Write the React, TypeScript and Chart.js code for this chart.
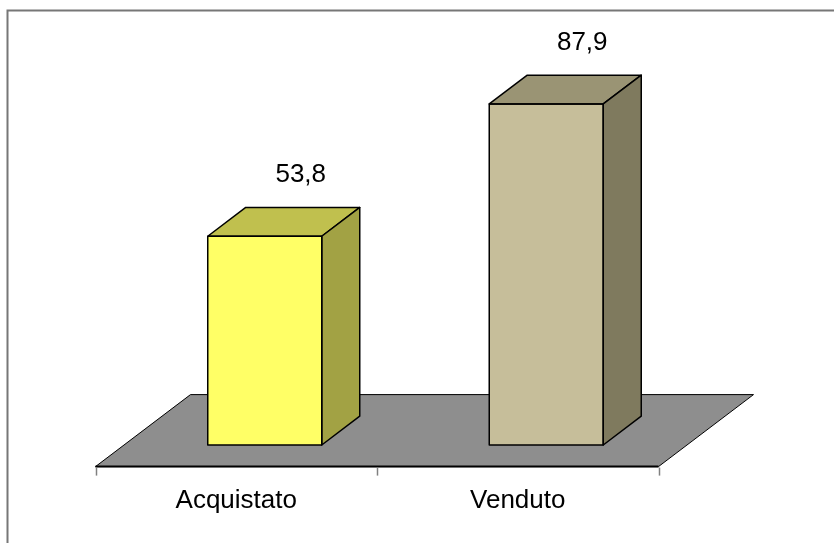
import React, { useEffect, useRef } from "react";
import { Chart, registerables } from "chart.js";

Chart.register(...registerables);

// Data
const categories = ["Acquistato", "Venduto"];
const values = [53.8, 87.9];
const valueLabels = ["53,8", "87,9"];

// Face colours for each bar: front, top, side
const frontColors = ["#FFFF66", "#C6BE9A"];
const topColors = ["#C0C04E", "#9A9474"];
const sideColors = ["#A2A244", "#7F7A5E"];

// 3D projection of the floor depth (pixels) and where bars sit within it
const DEPTH_X = 95;
const DEPTH_Y = 72;
const BAR_FRONT = 0.3;
const BAR_BACK = 0.7;

const FONT = '"Liberation Sans", Arial, sans-serif';

const threeDPlugin = {
  id: "threeD",
  beforeDraw(chart: any) {
    const { ctx } = chart;
    // outer frame
    ctx.save();
    ctx.strokeStyle = "#777777";
    ctx.lineWidth = 2;
    ctx.beginPath();
    ctx.moveTo(7.5, chart.height + 2);
    ctx.lineTo(7.5, 10.5);
    ctx.lineTo(chart.width + 2, 10.5);
    ctx.stroke();
    ctx.restore();
  },
  beforeDatasetsDraw(chart: any) {
    const { ctx, chartArea } = chart;
    const xs = chart.scales.x;
    const ys = chart.scales.y;
    const y0 = ys.getPixelForValue(0);
    const offX = BAR_FRONT * DEPTH_X;
    const offY = BAR_FRONT * DEPTH_Y;
    const fl = chartArea.left - offX;
    const fr = chartArea.right - offX;
    const fy = y0 + offY;
    const by = fy - DEPTH_Y;

    ctx.save();
    // floor
    ctx.fillStyle = "#8E8E8E";
    ctx.strokeStyle = "#000000";
    ctx.lineWidth = 1;
    ctx.beginPath();
    ctx.moveTo(fl, fy);
    ctx.lineTo(fl + DEPTH_X, by);
    ctx.lineTo(fr + DEPTH_X, by);
    ctx.lineTo(fr, fy);
    ctx.closePath();
    ctx.fill();
    ctx.stroke();

    // front edge of the floor (category axis line)
    ctx.lineWidth = 2;
    ctx.beginPath();
    ctx.moveTo(fl, fy);
    ctx.lineTo(fr, fy);
    ctx.stroke();

    // tick marks between categories
    const n = categories.length;
    const catW = (chartArea.right - chartArea.left) / n;
    ctx.strokeStyle = "#808080";
    ctx.lineWidth = 1.5;
    for (let i = 0; i <= n; i++) {
      const tx = Math.round(fl + i * catW) + 0.5;
      ctx.beginPath();
      ctx.moveTo(tx, fy + 1);
      ctx.lineTo(tx, fy + 9);
      ctx.stroke();
    }

    // category labels
    ctx.fillStyle = "#000000";
    ctx.font = `26px ${FONT}`;
    ctx.textAlign = "center";
    ctx.textBaseline = "alphabetic";
    categories.forEach((c, i) => {
      const cx = xs.getPixelForValue(i) - offX;
      ctx.fillText(c, cx, fy + 41);
    });
    ctx.restore();
  },
  afterDatasetsDraw(chart: any) {
    const { ctx } = chart;
    const meta = chart.getDatasetMeta(0);
    const dx = (BAR_BACK - BAR_FRONT) * DEPTH_X;
    const dy = (BAR_BACK - BAR_FRONT) * DEPTH_Y;
    ctx.save();
    ctx.strokeStyle = "#000000";
    ctx.lineWidth = 1.5;
    ctx.lineJoin = "round";
    meta.data.forEach((bar: any, i: number) => {
      const { x, y, base, width } = bar.getProps(["x", "y", "base", "width"], true);
      const l = x - width / 2;
      const r = x + width / 2;
      // top face
      ctx.fillStyle = topColors[i];
      ctx.beginPath();
      ctx.moveTo(l, y);
      ctx.lineTo(l + dx, y - dy);
      ctx.lineTo(r + dx, y - dy);
      ctx.lineTo(r, y);
      ctx.closePath();
      ctx.fill();
      ctx.stroke();
      // side face
      ctx.fillStyle = sideColors[i];
      ctx.beginPath();
      ctx.moveTo(r, y);
      ctx.lineTo(r + dx, y - dy);
      ctx.lineTo(r + dx, base - dy);
      ctx.lineTo(r, base);
      ctx.closePath();
      ctx.fill();
      ctx.stroke();
      // front face outline
      ctx.strokeRect(l, y, width, base - y);

      // value label above the back edge
      ctx.fillStyle = "#000000";
      ctx.font = `26px ${FONT}`;
      ctx.textAlign = "center";
      ctx.textBaseline = "alphabetic";
      ctx.fillText(valueLabels[i], x + dx - 2, y - dy - 25);
    });
    ctx.restore();
  },
};

export default function App() {
  const canvasRef = useRef<HTMLCanvasElement | null>(null);

  useEffect(() => {
    const canvas = canvasRef.current;
    if (!canvas) return;
    const chart = new Chart(canvas, {
      type: "bar",
      data: {
        labels: categories,
        datasets: [
          {
            data: values,
            backgroundColor: frontColors,
            borderWidth: 0,
            categoryPercentage: 1,
            barPercentage: 0.405,
          },
        ],
      },
      options: {
        responsive: false,
        animation: false,
        layout: { padding: { left: 124, right: 147, top: 57, bottom: 98 } },
        plugins: {
          legend: { display: false },
          tooltip: { enabled: false },
        },
        scales: {
          x: { display: false },
          y: { display: false, min: 0, max: 100 },
        },
      },
      plugins: [threeDPlugin],
    });
    return () => chart.destroy();
  }, []);

  return (
    <div style={{ position: "fixed", left: 0, top: 0, width: 834, height: 543, background: "#ffffff" }}>
      <canvas ref={canvasRef} width={834} height={543} style={{ display: "block" }} />
    </div>
  );
}
